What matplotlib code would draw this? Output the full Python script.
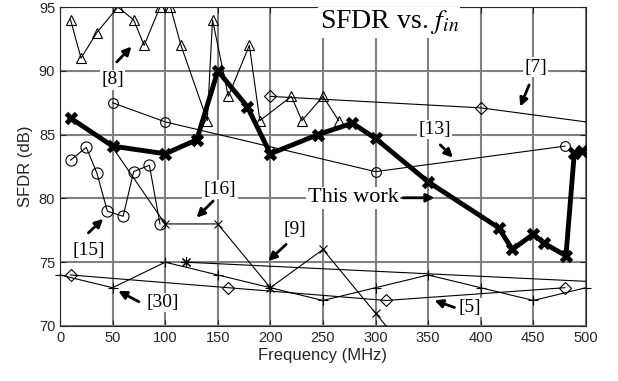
import matplotlib
matplotlib.use("Agg")
import matplotlib.pyplot as plt

# this work
f_this = [10, 50, 100, 130, 150, 178, 200, 245, 278, 300, 350, 417, 430, 450, 460, 481, 489, 496]
sfdr_this = [86.3, 84.1, 83.5, 84.6, 90.0, 87.2, 83.5, 85.0, 85.9, 84.7, 81.3, 77.7, 76.0, 77.2, 76.5, 75.5, 83.6, 83.7]

# [8]
f_8 = [10, 20, 35, 55, 70, 80, 95, 105, 115, 140, 145, 160, 180, 190, 220, 230, 250, 265]
sfdr_8 = [94, 91, 93, 95, 94, 92, 95, 95, 92, 86.1, 94, 88, 92, 86.1, 88, 86.1, 88, 86.1]

# [7]
f_7 = [200, 400, 500]
sfdr_7 = [88, 87.1, 86]

# [13]
f_13 = [50, 100, 300, 480]
sfdr_13 = [87.5, 86, 82.1, 84.1]

# [15]
f_15 = [10, 25, 35, 45, 60, 70, 85, 95]
sfdr_15 = [83, 84, 82, 79, 78.6, 82.1, 82.6, 78]

# [16]
f_16 = [50, 100, 150, 200, 250, 300, 350]
sfdr_16 = [84, 78, 78, 73, 76, 71, 66]

# [9]
f_9 = [120, 500]
sfdr_9 = [75, 73.5]

# [30]
f_30 = [0, 50, 100, 150, 200, 250, 300, 350, 400, 450, 500]
sfdr_30 = [74, 73, 75, 74, 73, 72, 73, 74, 73, 72, 73]

# [5]
f_5 = [10, 160, 310, 480]
sfdr_5 = [74, 73, 72, 73]

plt.rcParams["mathtext.fontset"] = "stix"
serif = "Liberation Serif"
sans = "Liberation Sans"

fig = plt.figure(figsize=(6.18, 3.81), dpi=100)
ax = fig.add_axes([0.0971, 0.1444, 0.851, 0.837])

thin = dict(color="k", lw=0.8, mfc="none", mec="k", mew=0.8)
ax.plot(f_8, sfdr_8, marker="^", ms=7, **thin)
ax.plot(f_7, sfdr_7, marker="D", ms=6, markevery=[0, 1], **thin)
ax.plot(f_13, sfdr_13, marker="o", ms=7, **thin)
ax.plot(f_15, sfdr_15, marker="o", ms=8, **thin)
ax.plot(f_16, sfdr_16, marker="x", ms=6, **thin)
ax.plot(f_9, sfdr_9, marker=(8, 2, 0), ms=8, markevery=[0], **thin)
ax.plot(f_30, sfdr_30, marker="+", ms=7, clip_on=False, **thin)
ax.plot(f_5, sfdr_5, marker="D", ms=6, **thin)
ax.plot(f_this, sfdr_this, color="k", lw=3.5, marker="x", ms=7, mew=3.5, zorder=5)

ax.set_xlim(0, 500)
ax.set_ylim(70, 95)
ax.set_xticks(range(0, 501, 50))
ax.set_yticks(range(70, 96, 5))
ax.grid(True, color="#808080", lw=1.5)
ax.set_axisbelow(True)
ax.tick_params(direction="in", top=True, right=True, length=4, labelsize=10.5,
               labelcolor="#262626", color="#262626")
for lab in ax.get_xticklabels() + ax.get_yticklabels():
    lab.set_family(sans)
for s in ax.spines.values():
    s.set_color("#262626")
ax.set_xlabel("Frequency (MHz)", fontsize=12, family=sans, color="#262626", labelpad=2)
ax.set_ylabel("SFDR (dB)", fontsize=12, family=sans, color="#262626", labelpad=4)

box = dict(facecolor="white", edgecolor="none", pad=1)
ax.text(313, 93.8, "SFDR vs. $f_{in}$", fontsize=20, family=serif, ha="center", va="center",
        bbox=box, zorder=6)

labels = [
    ("[8]", (50, 89.3), (54, 90.7), (68, 91.9)),
    ("[7]", (452, 90.3), (446, 88.9), (437.5, 87.2)),
    ("[13]", (356, 85.4), (361.5, 84.2), (373.5, 83.2)),
    ("[16]", (152, 80.7), (145.6, 79.8), (129.8, 78.5)),
    ("[15]", (27, 75.9), (27, 77.3), (41, 78.4)),
    ("[9]", (223, 77.6), (215, 76.4), (198, 75.1)),
    ("[30]", (97.5, 71.85), (75, 71.9), (55.4, 72.75)),
    ("[5]", (390, 71.45), (375, 71.45), (356, 72.0)),
]
for txt, pos, tail, head in labels:
    ax.text(pos[0], pos[1], txt, fontsize=14, family=serif, ha="center", va="center",
            bbox=box, zorder=6)
    ax.annotate("", xy=head, xytext=tail,
                arrowprops=dict(arrowstyle="-|>", lw=2, color="k", mutation_scale=12,
                                shrinkA=0, shrinkB=0), zorder=6)

ax.text(278.5, 80.05, "This work", fontsize=16, family=serif, ha="center", va="center",
        bbox=box, zorder=6)
ax.annotate("", xy=(356, 80.05), xytext=(326, 80.05),
            arrowprops=dict(arrowstyle="-|>", lw=2, color="k", mutation_scale=12,
                            shrinkA=0, shrinkB=0), zorder=6)

fig.savefig("out.png", dpi=100)
